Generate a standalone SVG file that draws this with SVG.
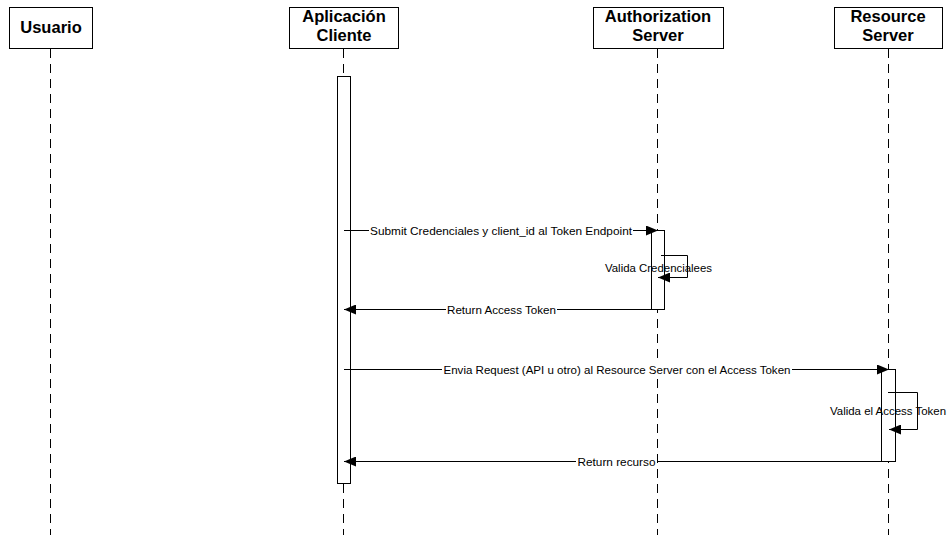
<svg xmlns="http://www.w3.org/2000/svg" width="949" height="535" viewBox="0 0 949 535">
  <style>
    .head { fill: #fff; stroke: #000; stroke-width: 1; }
    .headtxt { font-family: "Liberation Sans", Arial, sans-serif; font-weight: bold; font-size: 16.5px; text-anchor: middle; fill: #000; }
    .life { stroke: #000; stroke-width: 1; stroke-dasharray: 9 6; fill: none; }
    .act { fill: #fff; stroke: #000; stroke-width: 1; }
    .msg { stroke: #000; stroke-width: 1; fill: none; }
    .lbl { font-family: "Liberation Sans", Arial, sans-serif; font-size: 11.5px; text-anchor: middle; fill: #000; }
    .bg { fill: #fff; stroke: none; }
  </style>
  <defs>
    <marker id="arrow" viewBox="0 0 12 10" refX="12" refY="5" markerWidth="12" markerHeight="10" markerUnits="userSpaceOnUse" orient="auto">
      <path d="M0,0 L12,5 L0,10 Z" fill="#000"/>
    </marker>
  </defs>
  <rect width="949" height="535" fill="#fff"/>

  <!-- participants -->
  <g id="usuario">
    <rect class="head" x="9.5" y="7.5" width="83" height="41"/>
    <text class="headtxt" x="51" y="33">Usuario</text>
    <line class="life" x1="50.5" y1="49" x2="50.5" y2="535"/>
  </g>
  <g id="aplicacion-cliente">
    <rect class="head" x="289.5" y="7.5" width="109" height="41"/>
    <text class="headtxt" x="344" y="22">Aplicación</text>
    <text class="headtxt" x="344" y="41">Cliente</text>
    <line class="life" x1="343.5" y1="49" x2="343.5" y2="535"/>
    <rect class="act" x="337.5" y="76.5" width="13" height="407"/>
  </g>
  <g id="authorization-server">
    <rect class="head" x="593.5" y="7.5" width="130" height="41"/>
    <text class="headtxt" x="658" y="22">Authorization</text>
    <text class="headtxt" x="658" y="41">Server</text>
    <line class="life" x1="657.5" y1="49" x2="657.5" y2="535"/>
    <rect class="act" x="651.5" y="230.5" width="13" height="79"/>
  </g>
  <g id="resource-server">
    <rect class="head" x="834.5" y="7.5" width="108" height="41"/>
    <text class="headtxt" x="888" y="22">Resource</text>
    <text class="headtxt" x="888" y="41">Server</text>
    <line class="life" x1="888.5" y1="49" x2="888.5" y2="535"/>
    <rect class="act" x="881.5" y="369.5" width="14" height="92"/>
  </g>

  <!-- messages -->
  <g id="connectors">
    <line class="msg" x1="344" y1="230.5" x2="658" y2="230.5" marker-end="url(#arrow)"/>
    <rect class="bg" x="369" y="224" width="264" height="13"/>
    <text class="lbl" x="501" y="234.5" textLength="262" lengthAdjust="spacingAndGlyphs">Submit Credenciales y client_id al Token Endpoint</text>

    <polyline class="msg" points="661,255.5 687.5,255.5 687.5,277.5 658,277.5" marker-end="url(#arrow)"/>
    <text class="lbl" x="658.5" y="272" textLength="107" lengthAdjust="spacingAndGlyphs">Valida Credencialees</text>

    <line class="msg" x1="652" y1="309.5" x2="344" y2="309.5" marker-end="url(#arrow)"/>
    <rect class="bg" x="446" y="303" width="111" height="13"/>
    <text class="lbl" x="501.5" y="313.5" textLength="109" lengthAdjust="spacingAndGlyphs">Return Access Token</text>

    <line class="msg" x1="344" y1="369.5" x2="889" y2="369.5" marker-end="url(#arrow)"/>
    <rect class="bg" x="442" y="363" width="350" height="13"/>
    <text class="lbl" x="617" y="373.5" textLength="347" lengthAdjust="spacingAndGlyphs">Envia Request (API u otro) al Resource Server con el Access Token</text>

    <polyline class="msg" points="888,392.5 917.5,392.5 917.5,429.5 889,429.5" marker-end="url(#arrow)"/>
    <text class="lbl" x="888" y="415" textLength="116" lengthAdjust="spacingAndGlyphs">Valida el Access Token</text>

    <line class="msg" x1="882" y1="461.5" x2="344" y2="461.5" marker-end="url(#arrow)"/>
    <rect class="bg" x="576" y="455" width="81" height="13"/>
    <text class="lbl" x="616.5" y="465.5" textLength="78" lengthAdjust="spacingAndGlyphs">Return recurso</text>
  </g>
</svg>
